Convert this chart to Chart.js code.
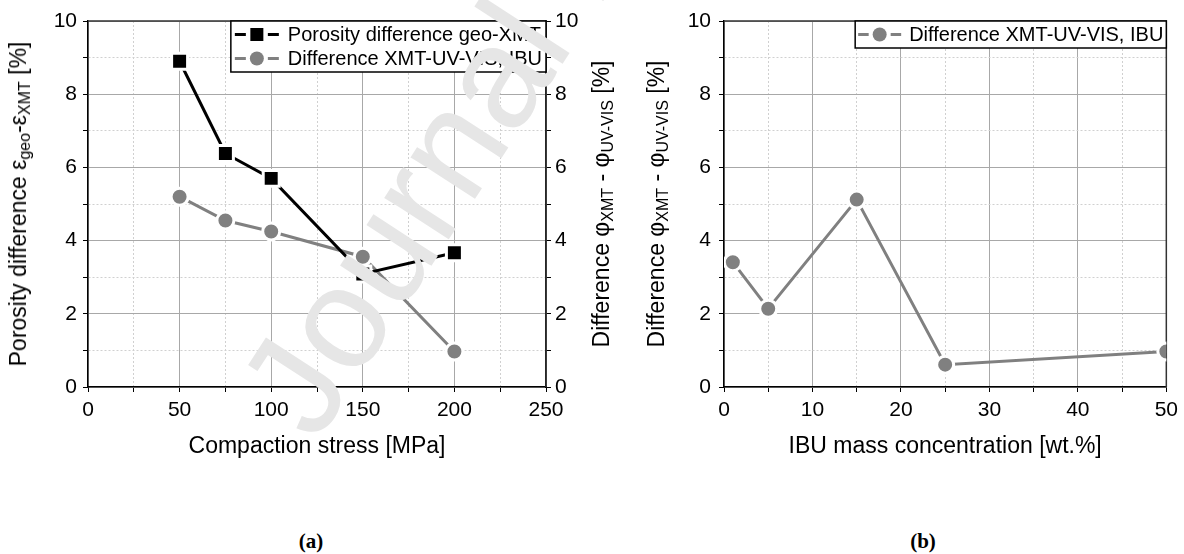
<!DOCTYPE html>
<html>
<head>
<meta charset="utf-8">
<script src="https://cdn.jsdelivr.net/npm/chart.js@4.4.1/dist/chart.umd.min.js"></script>
<style>
  html, body { margin: 0; padding: 0; background: #fff; }
  body { width: 1184px; height: 554px; position: relative; overflow: hidden; font-family: 'Liberation Sans', Arial, sans-serif; }
  .panel { position: absolute; top: 0; height: 480px; }
  .ytitle { position: absolute; font-size: 23px; line-height: 1; white-space: nowrap; color: #000;
            transform: translate(-50%, -50%) rotate(-90deg); }
  .ytitle sub { font-size: 16px; vertical-align: -4px; }
  .tag { position: absolute; font: bold 21px 'Liberation Serif', 'Times New Roman', serif; transform: translate(-50%, -50%); }
  .watermark { position: absolute; left: 303px; top: 294px; font-size: 145px; line-height: 1;
               color: #e6e6e6; white-space: nowrap; transform-origin: 32px 124px; transform: rotate(-57deg);
               pointer-events: none; }
</style>
</head>
<body>
<div class="panel" style="left:0;width:600px"><canvas id="chartStress" width="600" height="480"></canvas></div>
<div class="panel" style="left:600px;width:584px"><canvas id="chartIbu" width="584" height="480"></canvas></div>

<div class="ytitle" style="left:20px;top:204px">Porosity difference ε<sub>geo</sub>-ε<sub>XMT</sub> [%]</div>
<div class="ytitle" style="left:603px;top:204px">Difference φ<sub>XMT</sub> - φ<sub>UV-VIS</sub> [%]</div>
<div class="ytitle" style="left:658px;top:204px">Difference φ<sub>XMT</sub> - φ<sub>UV-VIS</sub> [%]</div>

<div class="tag" style="left:311px;top:541px">(a)</div>
<div class="tag" style="left:923px;top:541px">(b)</div>

<div class="watermark">Journal Pre-proof</div>

<script>
// (a) porosity vs. compaction stress
const stressMPa = [50, 75, 100, 150, 200];
const porosityDiff = [8.90, 6.38, 5.70, 3.09, 3.67];
const uvVisDiffStress = [5.20, 4.55, 4.25, 3.56, 0.97];
// (b) UV-VIS difference vs. IBU content
const ibuConc = [1, 5, 15, 25, 50];
const uvVisDiffIbu = [3.41, 2.14, 5.12, 0.61, 0.97];

const yTickLabels = [0, 2, 4, 6, 8, 10];
const stressTickLabels = [0, 50, 100, 150, 200, 250];
const ibuTickLabels = [0, 10, 20, 30, 40, 50];

const FONT = "'Liberation Sans', Arial, sans-serif";
const GRAY = '#808080';

Chart.defaults.font.family = FONT;
Chart.defaults.color = '#000';

const pts = (xs, ys) => xs.map((x, i) => ({ x: x, y: ys[i] }));

// solid major grid lines, dotted minor ones
function axis(min, max, step, labels, extra) {
  const isMajor = v => labels.includes(v);
  return Object.assign({
    type: 'linear',
    min: min,
    max: max,
    ticks: {
      stepSize: step,
      autoSkip: false,
      maxRotation: 0,
      font: { size: 21 },
      padding: 6,
      callback: v => isMajor(v) ? v : ''
    },
    grid: {
      color: c => c.tick && isMajor(c.tick.value) ? '#a8a8a8' : '#d0d0d0',
      lineWidth: 1,
      tickColor: '#000',
      tickLength: 5
    },
    border: {
      color: '#000',
      width: 1.5,
      dash: c => c.tick && !isMajor(c.tick.value) ? [2, 2] : []
    }
  }, extra || {});
}

// dark frame line along the top and right of the plot
const plotFrame = {
  id: 'plotFrame',
  beforeDatasetsDraw(chart) {
    const a = chart.chartArea;
    const ctx = chart.ctx;
    ctx.save();
    ctx.strokeStyle = '#333';
    ctx.lineWidth = 1.5;
    ctx.beginPath();
    ctx.moveTo(a.left, a.top);
    ctx.lineTo(a.right, a.top);
    ctx.lineTo(a.right, a.bottom);
    ctx.stroke();
    ctx.restore();
  }
};

// boxed legend with line-marker-line samples, top right of the plot
const sampleLegend = {
  id: 'sampleLegend',
  afterDatasetsDraw(chart, args, opts) {
    const ctx = chart.ctx;
    const area = chart.chartArea;
    const sets = chart.data.datasets;
    ctx.save();
    ctx.font = '20px ' + FONT;
    const textW = Math.max(...sets.map(d => ctx.measureText(d.label).width));
    const rowH = 24;
    const w = opts.padLeft + opts.sampleWidth + opts.gap + textW + opts.padRight;
    const h = rowH * sets.length + 3;
    const x0 = area.right - w;
    const y0 = area.top;
    ctx.fillStyle = '#fff';
    ctx.fillRect(x0, y0, w, h);
    ctx.strokeStyle = '#000';
    ctx.lineWidth = 1.5;
    ctx.strokeRect(x0, y0, w, h);
    sets.forEach((d, i) => {
      const cy = y0 + 13.5 + i * rowH;
      const sx = x0 + opts.padLeft;
      const mx = sx + opts.sampleWidth / 2;
      ctx.strokeStyle = d.borderColor;
      ctx.lineWidth = d.borderWidth;
      ctx.beginPath();
      ctx.moveTo(sx, cy);
      ctx.lineTo(mx - 11, cy);
      ctx.moveTo(mx + 11, cy);
      ctx.lineTo(sx + opts.sampleWidth, cy);
      ctx.stroke();
      ctx.fillStyle = d.pointBackgroundColor;
      if (d.pointStyle === 'rect') {
        ctx.fillRect(mx - 6.5, cy - 6.5, 13, 13);
      } else {
        ctx.beginPath();
        ctx.arc(mx, cy, 7, 0, Math.PI * 2);
        ctx.fill();
      }
      ctx.fillStyle = '#000';
      ctx.textBaseline = 'middle';
      ctx.textAlign = 'left';
      ctx.fillText(d.label, sx + opts.sampleWidth + opts.gap, cy + 1);
    });
    ctx.restore();
  }
};

function series(label, data, color, style, yAxisID) {
  return {
    label: label,
    data: data,
    yAxisID: yAxisID,
    borderColor: color,
    borderWidth: 3,
    pointStyle: style,
    pointBackgroundColor: color,
    pointBorderColor: '#fff',
    pointBorderWidth: 3,
    pointRadius: style === 'rect' ? 11.3 : 8.5,
    pointHoverRadius: style === 'rect' ? 11.3 : 8.5,
    tension: 0,
    fill: false
  };
}

const xTitle = text => ({
  display: true,
  text: text,
  font: { size: 23 },
  padding: { top: 0, bottom: 20 }
});

new Chart(document.getElementById('chartStress'), {
  type: 'line',
  data: {
    datasets: [
      series('Porosity difference geo-XMT', pts(stressMPa, porosityDiff), '#000', 'rect', 'y'),
      series('Difference XMT-UV-VIS, IBU', pts(stressMPa, uvVisDiffStress), GRAY, 'circle', 'y2')
    ]
  },
  options: {
    responsive: false,
    animation: false,
    devicePixelRatio: 1,
    layout: { padding: { top: 21, left: 0, right: 0, bottom: 0 } },
    plugins: {
      legend: { display: false },
      tooltip: { enabled: false },
      sampleLegend: { padLeft: 4, sampleWidth: 44, gap: 9, padRight: 4 }
    },
    scales: {
      x: axis(0, 250, 25, stressTickLabels, {
        position: 'bottom',
        title: xTitle('Compaction stress [MPa]'),
        afterFit: s => { s.height = 93; }
      }),
      y: axis(0, 10, 1, yTickLabels, {
        position: 'left',
        afterFit: s => { s.width = 88; }
      }),
      y2: (() => {
        const a = axis(0, 10, 1, yTickLabels, {
          position: 'right',
          afterFit: s => { s.width = 54; }
        });
        a.ticks.padding = 4;
        a.grid.drawOnChartArea = false;
        return a;
      })()
    }
  },
  plugins: [plotFrame, sampleLegend]
});

new Chart(document.getElementById('chartIbu'), {
  type: 'line',
  data: {
    datasets: [
      series('Difference XMT-UV-VIS, IBU', pts(ibuConc, uvVisDiffIbu), GRAY, 'circle', 'y')
    ]
  },
  options: {
    responsive: false,
    animation: false,
    devicePixelRatio: 1,
    layout: { padding: { top: 21, left: 0, right: 17, bottom: 0 } },
    plugins: {
      legend: { display: false },
      tooltip: { enabled: false },
      sampleLegend: { padLeft: 3, sampleWidth: 43, gap: 8, padRight: 3 }
    },
    scales: {
      x: axis(0, 50, 5, ibuTickLabels, {
        position: 'bottom',
        title: xTitle('IBU mass concentration [wt.%]'),
        afterFit: s => { s.height = 93; }
      }),
      y: (() => {
        const a = axis(0, 10, 1, yTickLabels, {
          position: 'left',
          afterFit: s => { s.width = 124; }
        });
        a.ticks.padding = 8;
        return a;
      })()
    }
  },
  plugins: [plotFrame, sampleLegend]
});
</script>
</body>
</html>
